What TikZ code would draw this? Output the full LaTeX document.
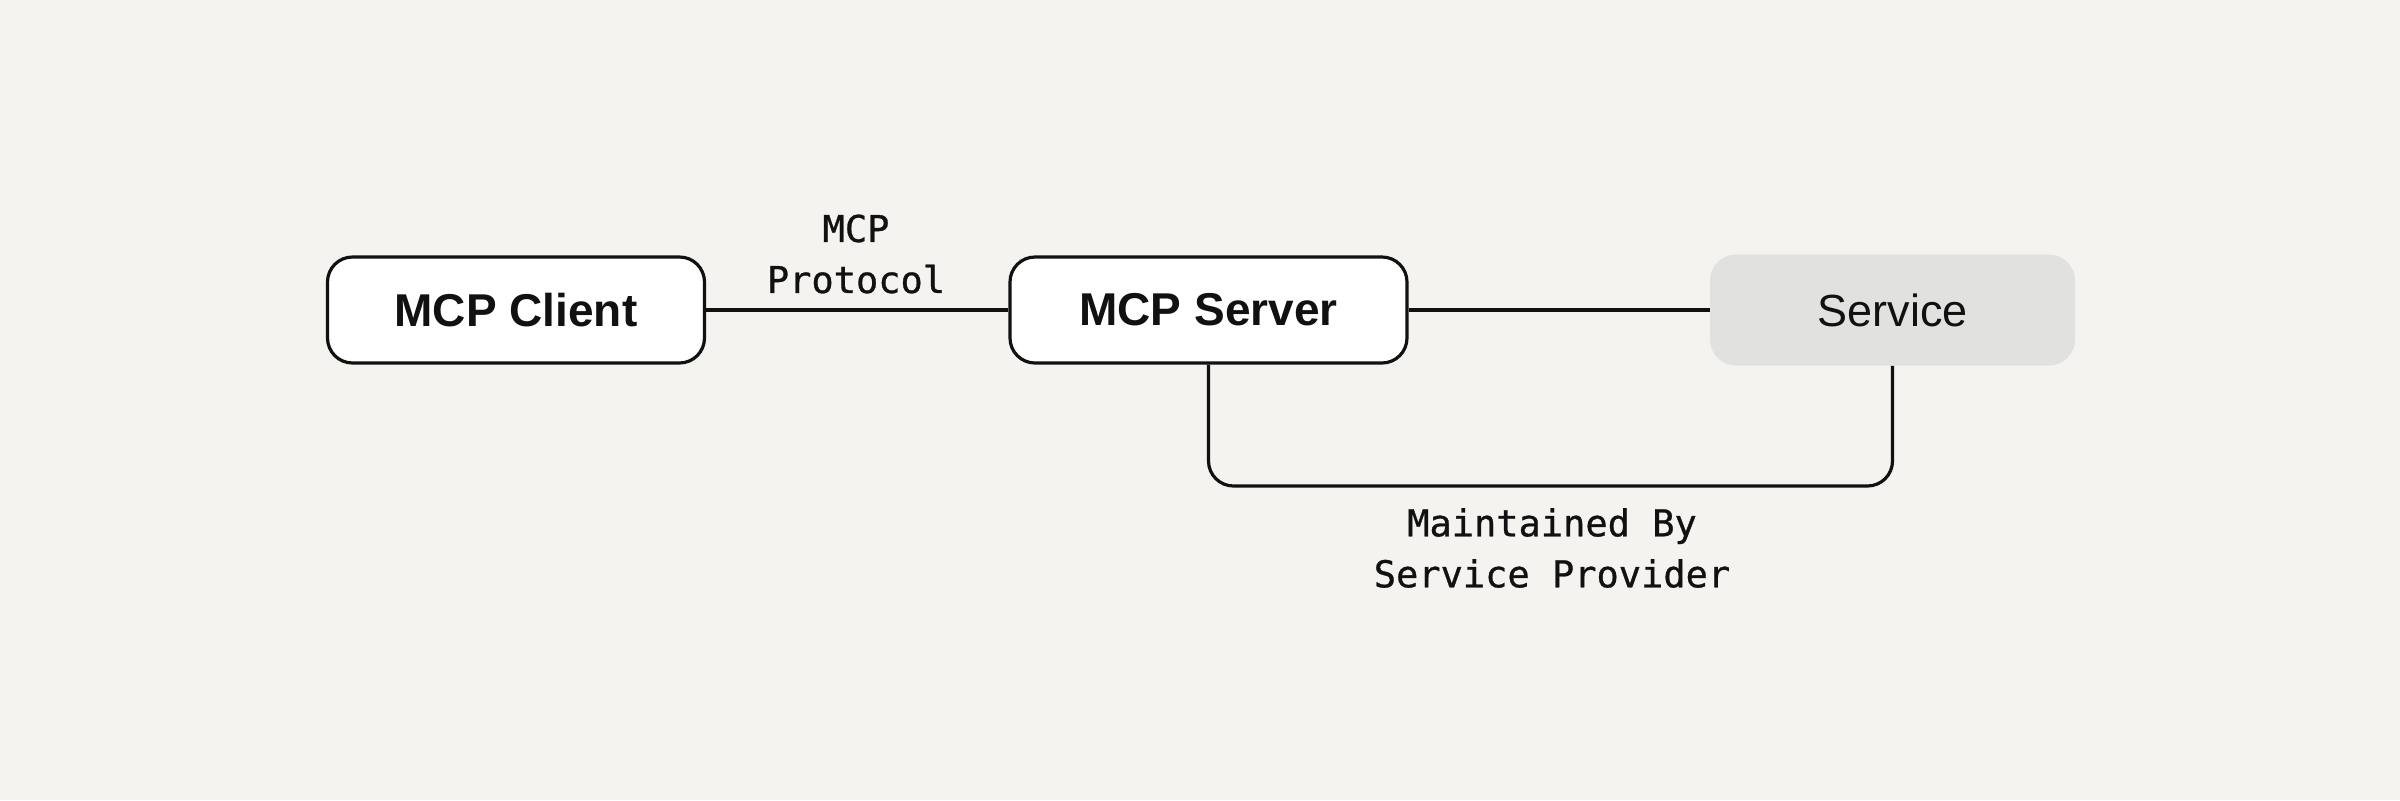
\documentclass[tikz,border=0pt]{standalone}
\usepackage{fontspec}
\setmainfont{Liberation Sans}
\newfontfamily\labelmono[FakeBold=0.8]{DejaVu Sans Mono}
\definecolor{bgcol}{HTML}{F4F3EF}
\definecolor{svcfill}{HTML}{E1E1E0}
\definecolor{inkcol}{HTML}{111111}
\begin{document}
\begin{tikzpicture}[x=0.5pt,y=-0.5pt,
  box/.style={draw=inkcol,line width=1.6pt,fill=white,rounded corners=12.5pt,
    minimum width=#1,minimum height=53pt,inner sep=0pt,text=inkcol,
    font=\fontsize{23}{27}\selectfont\bfseries},
  svcbox/.style={fill=svcfill,rounded corners=13pt,minimum width=182.5pt,
    minimum height=55.5pt,inner sep=0pt,text=inkcol,font=\fontsize{22.5}{27}\selectfont},
  link/.style={draw=inkcol,line width=1.6pt},
  monolbl/.style={align=center,inner sep=0pt,text=inkcol,
    font=\labelmono\fontsize{18.5}{25.5}\selectfont}]
\fill[bgcol] (0,0) rectangle (2400,800);
\useasboundingbox (0,0) rectangle (2400,800);
\node[box=188.5pt] (client) at (516,310) {MCP Client};
\node[box=198.5pt] (server) at (1208.5,310) {MCP Server};
\node[svcbox] (service) at (1892.5,310) {Service};
\draw[link] (client.east) -- (server.west);
\draw[link] (server.east) -- (service.west);
\coordinate (bl) at (1208.5,486);
\coordinate (br) at (1892.5,486);
\draw[link,rounded corners=12.5pt] (server.south) -- (bl) -- (br) -- (service.south);
\node[monolbl] (proto) at (856,254) {MCP\\Protocol};
\node[monolbl] (maint) at (1552,548) {Maintained By\\Service Provider};
\end{tikzpicture}
\end{document}
